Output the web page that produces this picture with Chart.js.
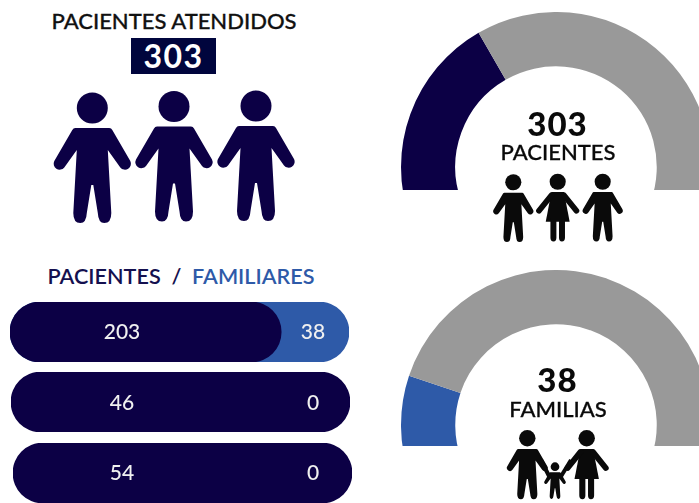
<!DOCTYPE html>
<html lang="es">
<head>
<meta charset="utf-8">
<title>Pacientes atendidos</title>
<script src="https://cdn.jsdelivr.net/npm/chart.js@4"></script>
<style>
  html, body { margin: 0; width: 699px; height: 503px; overflow: hidden; background: #fff; }
  body { position: relative; font-family: Lato, sans-serif; }
  .txt { position: absolute; transform: translate(-50%, -50%); line-height: 1; white-space: nowrap; }
  .heavy { -webkit-text-stroke: 0.3px currentColor; }
  .box { position: absolute; overflow: hidden; }
  .box canvas { display: block; }
  #numBox { position: absolute; left: 131px; top: 38px; width: 85px; height: 36px; background: #00053d; }
  svg { position: absolute; left: 0; top: 0; }
</style>
</head>
<body>

<svg width="699" height="503">
  <defs>
    <g id="man">
      <circle cx="0" cy="0" r="15.5"/>
      <path d="M-17 20 H17 Q19 20 20 22 L38 53 A6 6 0 0 1 28 59.5 L15.5 42 L19 105 Q19 115 12 115 Q6 115 5.5 105 L1 77 H-1 L-5.5 105 Q-6 115 -12 115 Q-19 115 -19 105 L-15.5 42 L-28 59.5 A6 6 0 0 1 -38 53 L-20 22 Q-19 20 -17 20 Z"/>
    </g>
    <g id="girl">
      <circle cx="0" cy="0" r="15.5"/>
      <path d="M-12 20 H12 L23 77 H-23 Z"/>
      <path d="M-14 70 H14 L14 108 Q14 115 8 115 Q2.5 115 2.5 108 V70 H-2.5 V108 Q-2.5 115 -8 115 Q-14 115 -14 108 Z"/>
      <line x1="-12" y1="26" x2="-36" y2="56" stroke-width="11" stroke-linecap="round" stroke="currentColor"/>
      <line x1="12" y1="26" x2="36" y2="56" stroke-width="11" stroke-linecap="round" stroke="currentColor"/>
    </g>
  </defs>

  <g fill="#0c0045" color="#0c0045">
    <use href="#man" transform="translate(92.3 108)"/>
    <use href="#man" transform="translate(174 106.5)"/>
    <use href="#man" transform="translate(256 106)"/>
  </g>

  <g fill="#0a0a0a" color="#0a0a0a">
    <use href="#man" transform="translate(513.3 182.3) scale(.52)"/>
    <use href="#girl" transform="translate(557.7 181.7) scale(.52)"/>
    <use href="#man" transform="translate(602.7 181.7) scale(.52)"/>

    <use href="#man" transform="translate(527.3 438.3) scale(.53)"/>
    <use href="#girl" transform="translate(586.7 438.3) scale(.53)"/>
    <use href="#man" transform="translate(555 466.7) scale(.28)"/>
    <line x1="541" y1="460" x2="550" y2="478" stroke="#0a0a0a" stroke-width="4"/>
    <line x1="571" y1="460" x2="560" y2="478" stroke="#0a0a0a" stroke-width="4"/>
  </g>
</svg>

<div class="txt heavy" style="left:174px;top:20.5px;font-size:22px;font-weight:500;color:#111">PACIENTES ATENDIDOS</div>
<div id="numBox"></div>
<div class="txt" style="left:173.5px;top:55.5px;font-size:32px;font-weight:700;color:#fff;letter-spacing:1.5px">303</div>

<div class="txt" style="left:181px;top:276.5px;font-size:21.6px;font-weight:600;white-space:pre"><span style="color:#14104f">PACIENTES</span><span style="color:#14104f">  /  </span><span style="color:#2e5aa8">FAMILIARES</span></div>

<div class="box" style="left:10px;top:302px;width:339px;height:60px"><canvas id="row0" width="339" height="60"></canvas></div>
<div class="box" style="left:11px;top:372px;width:339px;height:60px"><canvas id="row1" width="339" height="60"></canvas></div>
<div class="box" style="left:13px;top:443px;width:339px;height:60px"><canvas id="row2" width="339" height="60"></canvas></div>

<div class="box" style="left:401px;top:12px;width:298px;height:178px"><canvas id="gaugeA" width="310" height="208"></canvas></div>
<div class="box" style="left:401px;top:270px;width:298px;height:176px"><canvas id="gaugeB" width="310" height="208"></canvas></div>

<div class="txt" style="left:557.5px;top:122.5px;font-size:33px;font-weight:900;color:#0a0a0a;letter-spacing:1px">303</div>
<div class="txt heavy" style="left:558px;top:152px;font-size:22px;font-weight:500;color:#0a0a0a">PACIENTES</div>
<div class="txt" style="left:557.5px;top:378.5px;font-size:33px;font-weight:900;color:#0a0a0a;letter-spacing:1px">38</div>
<div class="txt heavy" style="left:558px;top:408.5px;font-size:22px;font-weight:500;color:#0a0a0a">FAMILIAS</div>

<div id="rowLabels"></div>

<script>
// valores de cada fila
const pacientes = [203, 46, 54];
const familiares = [38, 0, 0];
// largo de cada pastilla (parte del ancho total)
const tramoPacientes = [0.80, 1, 1];
const tramoFamiliares = [1, null, null];

// medidores: valor coloreado y resto en gris
const gaugePacientes = [303, 530];
const gaugeFamilias = [38, 179];

const NAVY = '#0c0045';
const BLUE = '#2e5aa8';
const GREY = '#999999';

// centro vertical de los textos de cada fila
const rowCenters = [330, 401, 471];

function drawRow(i) {
    new Chart(document.getElementById('row' + i), {
        type: 'bar',
        data: {
            labels: ['fila'],
            datasets: [
                { data: [tramoPacientes[i]], backgroundColor: NAVY, grouped: false, borderRadius: 30, borderSkipped: false },
                { data: [tramoFamiliares[i]], backgroundColor: BLUE, grouped: false, borderRadius: 30, borderSkipped: false }
            ]
        },
        options: {
            indexAxis: 'y',
            responsive: false,
            animation: false,
            categoryPercentage: 1,
            barPercentage: 1,
            layout: { padding: 0 },
            scales: {
                x: { display: false, min: 0, max: 1 },
                y: { display: false }
            },
            plugins: { legend: { display: false }, tooltip: { enabled: false } }
        }
    });
}

function drawGauge(id, values, color) {
    new Chart(document.getElementById(id), {
        type: 'doughnut',
        data: {
            labels: ['valor', 'resto'],
            datasets: [{ data: values, backgroundColor: [color, GREY], borderWidth: 0 }]
        },
        options: {
            responsive: false,
            animation: false,
            rotation: -110,
            circumference: 220,
            cutout: '65%',
            layout: { padding: 0 },
            plugins: { legend: { display: false }, tooltip: { enabled: false } }
        }
    });
}

pacientes.forEach((v, i) => drawRow(i));
drawGauge('gaugeA', gaugePacientes, NAVY);
drawGauge('gaugeB', gaugeFamilias, BLUE);

// etiquetas de las filas
const labelsDiv = document.getElementById('rowLabels');
pacientes.forEach((v, i) => {
    labelsDiv.insertAdjacentHTML('beforeend',
        `<div class="txt" style="left:122px;top:${rowCenters[i]}px;font-size:21px;font-weight:500;color:#f0f0f0">${v}</div>` +
        `<div class="txt" style="left:313px;top:${rowCenters[i]}px;font-size:21px;font-weight:500;color:#f0f0f0">${familiares[i]}</div>`);
});
</script>
</body>
</html>
